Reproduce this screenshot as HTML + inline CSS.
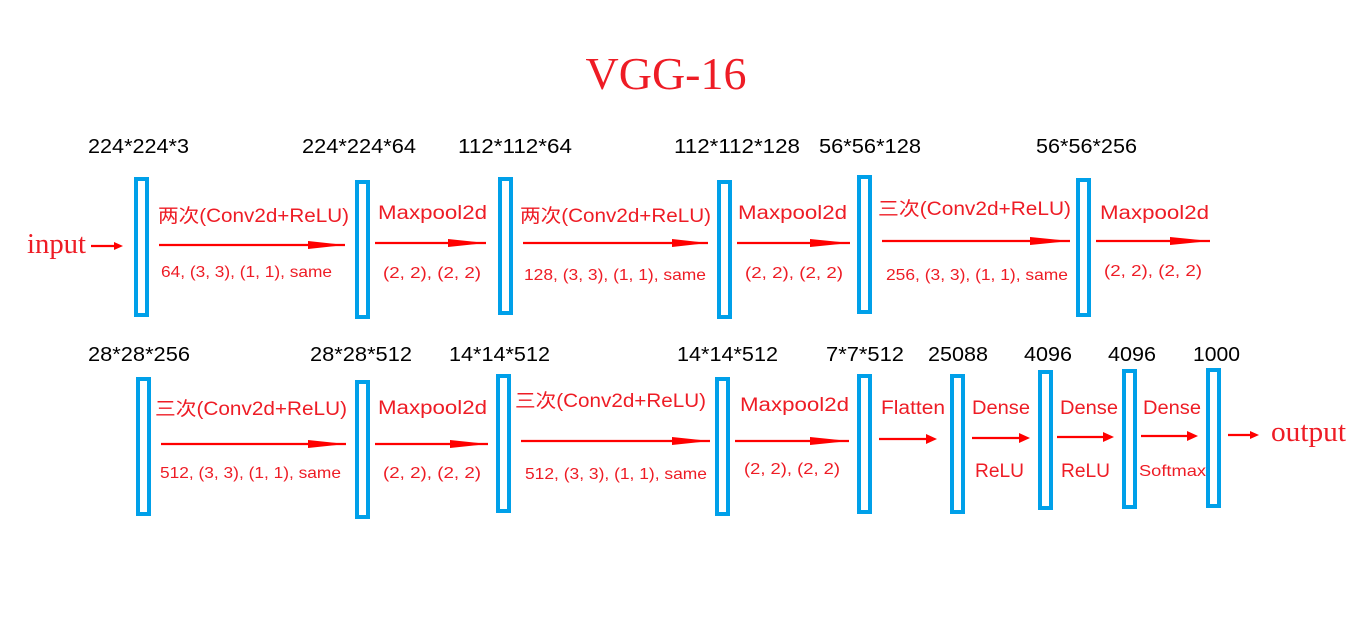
<!DOCTYPE html>
<html><head><meta charset="utf-8"><style>
html,body{margin:0;padding:0;background:#fff;width:1366px;height:619px;overflow:hidden}
svg text{font-family:"Liberation Sans","Noto Sans CJK SC",sans-serif}
.k{fill:#000;font-size:20px}
.r{fill:#ee1c25;font-size:19px}
.s{fill:#ee1c25;font-size:16px}
.b{fill:none;stroke:#00a0e9;stroke-width:4}
.l{stroke:#f00;stroke-width:2.2}
</style></head><body>
<svg width="1366" height="619" viewBox="0 0 1366 619" xmlns="http://www.w3.org/2000/svg">
<text x="666" y="89" text-anchor="middle" style="font-family:'Liberation Serif',serif;font-size:46px;fill:#ee1c25">VGG-16</text>
<g lengthAdjust="spacingAndGlyphs">
<text class="k" x="88" y="153" textLength="101" lengthAdjust="spacingAndGlyphs">224*224*3</text>
<text class="k" x="302" y="153" textLength="114" lengthAdjust="spacingAndGlyphs">224*224*64</text>
<text class="k" x="458" y="153" textLength="114" lengthAdjust="spacingAndGlyphs">112*112*64</text>
<text class="k" x="674" y="153" textLength="126" lengthAdjust="spacingAndGlyphs">112*112*128</text>
<text class="k" x="819" y="153" textLength="102" lengthAdjust="spacingAndGlyphs">56*56*128</text>
<text class="k" x="1036" y="153" textLength="101" lengthAdjust="spacingAndGlyphs">56*56*256</text>
<text class="k" x="88" y="361" textLength="102" lengthAdjust="spacingAndGlyphs">28*28*256</text>
<text class="k" x="310" y="361" textLength="102" lengthAdjust="spacingAndGlyphs">28*28*512</text>
<text class="k" x="449" y="361" textLength="101" lengthAdjust="spacingAndGlyphs">14*14*512</text>
<text class="k" x="677" y="361" textLength="101" lengthAdjust="spacingAndGlyphs">14*14*512</text>
<text class="k" x="826" y="361" textLength="78" lengthAdjust="spacingAndGlyphs">7*7*512</text>
<text class="k" x="928" y="361" textLength="60" lengthAdjust="spacingAndGlyphs">25088</text>
<text class="k" x="1024" y="361" textLength="48" lengthAdjust="spacingAndGlyphs">4096</text>
<text class="k" x="1108" y="361" textLength="48" lengthAdjust="spacingAndGlyphs">4096</text>
<text class="k" x="1193" y="361" textLength="47" lengthAdjust="spacingAndGlyphs">1000</text>
</g>
<rect class="b" x="136" y="179" width="11" height="136"/>
<rect class="b" x="357" y="182" width="11" height="135"/>
<rect class="b" x="500" y="179" width="11" height="134"/>
<rect class="b" x="719" y="182" width="11" height="135"/>
<rect class="b" x="859" y="177" width="11" height="135"/>
<rect class="b" x="1078" y="180" width="11" height="135"/>
<rect class="b" x="138" y="379" width="11" height="135"/>
<rect class="b" x="357" y="382" width="11" height="135"/>
<rect class="b" x="498" y="376" width="11" height="135"/>
<rect class="b" x="717" y="379" width="11" height="135"/>
<rect class="b" x="859" y="376" width="11" height="136"/>
<rect class="b" x="952" y="376" width="11" height="136"/>
<rect class="b" x="1040" y="372" width="11" height="136"/>
<rect class="b" x="1124" y="371" width="11" height="136"/>
<rect class="b" x="1208" y="370" width="11" height="136"/>
<text x="27" y="253" textLength="59" lengthAdjust="spacingAndGlyphs" style="font-family:'Liberation Serif',serif;font-size:28px;fill:#ee1c25">input</text>
<line class="l" x1="91" y1="246" x2="116" y2="246"/><polygon points="114,242 123,246 114,250" fill="#f00"/>
<text x="1271" y="441" textLength="75" lengthAdjust="spacingAndGlyphs" style="font-family:'Liberation Serif',serif;font-size:29px;fill:#ee1c25">output</text>
<line class="l" x1="1228" y1="435" x2="1252" y2="435"/><polygon points="1250,431 1259,435 1250,439" fill="#f00"/>
<g fill="#f00">
<line class="l" x1="159" y1="245" x2="345" y2="245"/><polygon points="308,241 345,245 308,249"/>
<line class="l" x1="375" y1="243" x2="486" y2="243"/><polygon points="448,239 486,243 448,247"/>
<line class="l" x1="523" y1="243" x2="708" y2="243"/><polygon points="672,239 708,243 672,247"/>
<line class="l" x1="737" y1="243" x2="850" y2="243"/><polygon points="810,239 850,243 810,247"/>
<line class="l" x1="882" y1="241" x2="1070" y2="241"/><polygon points="1030,237 1070,241 1030,245"/>
<line class="l" x1="1096" y1="241" x2="1210" y2="241"/><polygon points="1170,237 1210,241 1170,245"/>
<line class="l" x1="161" y1="444" x2="346" y2="444"/><polygon points="308,440 346,444 308,448"/>
<line class="l" x1="375" y1="444" x2="488" y2="444"/><polygon points="450,440 488,444 450,448"/>
<line class="l" x1="521" y1="441" x2="710" y2="441"/><polygon points="672,437 710,441 672,445"/>
<line class="l" x1="735" y1="441" x2="849" y2="441"/><polygon points="810,437 849,441 810,445"/>
<line class="l" x1="879" y1="439" x2="930" y2="439"/><polygon points="926,434 937,439 926,444"/>
<line class="l" x1="972" y1="438" x2="1023" y2="438"/><polygon points="1019,433 1030,438 1019,443"/>
<line class="l" x1="1057" y1="437" x2="1107" y2="437"/><polygon points="1103,432 1114,437 1103,442"/>
<line class="l" x1="1141" y1="436" x2="1191" y2="436"/><polygon points="1187,431 1198,436 1187,441"/>
</g>
<text class="r" x="158" y="222" textLength="191" lengthAdjust="spacingAndGlyphs">两次(Conv2d+ReLU)</text>
<text class="s" x="161" y="277" textLength="171" lengthAdjust="spacingAndGlyphs">64, (3, 3), (1, 1), same</text>
<text class="r" x="378" y="219" textLength="109" lengthAdjust="spacingAndGlyphs">Maxpool2d</text>
<text class="s" x="383" y="278" textLength="98" lengthAdjust="spacingAndGlyphs">(2, 2), (2, 2)</text>
<text class="r" x="520" y="222" textLength="191" lengthAdjust="spacingAndGlyphs">两次(Conv2d+ReLU)</text>
<text class="s" x="524" y="280" textLength="182" lengthAdjust="spacingAndGlyphs">128, (3, 3), (1, 1), same</text>
<text class="r" x="738" y="219" textLength="109" lengthAdjust="spacingAndGlyphs">Maxpool2d</text>
<text class="s" x="745" y="278" textLength="98" lengthAdjust="spacingAndGlyphs">(2, 2), (2, 2)</text>
<text class="r" x="878" y="215" textLength="193" lengthAdjust="spacingAndGlyphs">三次(Conv2d+ReLU)</text>
<text class="s" x="886" y="280" textLength="182" lengthAdjust="spacingAndGlyphs">256, (3, 3), (1, 1), same</text>
<text class="r" x="1100" y="219" textLength="109" lengthAdjust="spacingAndGlyphs">Maxpool2d</text>
<text class="s" x="1104" y="276" textLength="98" lengthAdjust="spacingAndGlyphs">(2, 2), (2, 2)</text>
<text class="r" x="155" y="415" textLength="192" lengthAdjust="spacingAndGlyphs">三次(Conv2d+ReLU)</text>
<text class="s" x="160" y="478" textLength="181" lengthAdjust="spacingAndGlyphs">512, (3, 3), (1, 1), same</text>
<text class="r" x="378" y="414" textLength="109" lengthAdjust="spacingAndGlyphs">Maxpool2d</text>
<text class="s" x="383" y="478" textLength="98" lengthAdjust="spacingAndGlyphs">(2, 2), (2, 2)</text>
<text class="r" x="515" y="407" textLength="191" lengthAdjust="spacingAndGlyphs">三次(Conv2d+ReLU)</text>
<text class="s" x="525" y="479" textLength="182" lengthAdjust="spacingAndGlyphs">512, (3, 3), (1, 1), same</text>
<text class="r" x="740" y="411" textLength="109" lengthAdjust="spacingAndGlyphs">Maxpool2d</text>
<text class="s" x="744" y="474" textLength="96" lengthAdjust="spacingAndGlyphs">(2, 2), (2, 2)</text>
<text class="r" x="881" y="414" textLength="64" lengthAdjust="spacingAndGlyphs">Flatten</text>
<text class="r" x="972" y="414" textLength="58" lengthAdjust="spacingAndGlyphs">Dense</text>
<text class="r" x="975" y="477" textLength="49" lengthAdjust="spacingAndGlyphs">ReLU</text>
<text class="r" x="1060" y="414" textLength="58" lengthAdjust="spacingAndGlyphs">Dense</text>
<text class="r" x="1061" y="477" textLength="49" lengthAdjust="spacingAndGlyphs">ReLU</text>
<text class="r" x="1143" y="414" textLength="58" lengthAdjust="spacingAndGlyphs">Dense</text>
<text x="1139" y="476" textLength="67" lengthAdjust="spacingAndGlyphs" style="fill:#ee1c25;font-size:16px">Softmax</text>
</svg>
</body></html>
